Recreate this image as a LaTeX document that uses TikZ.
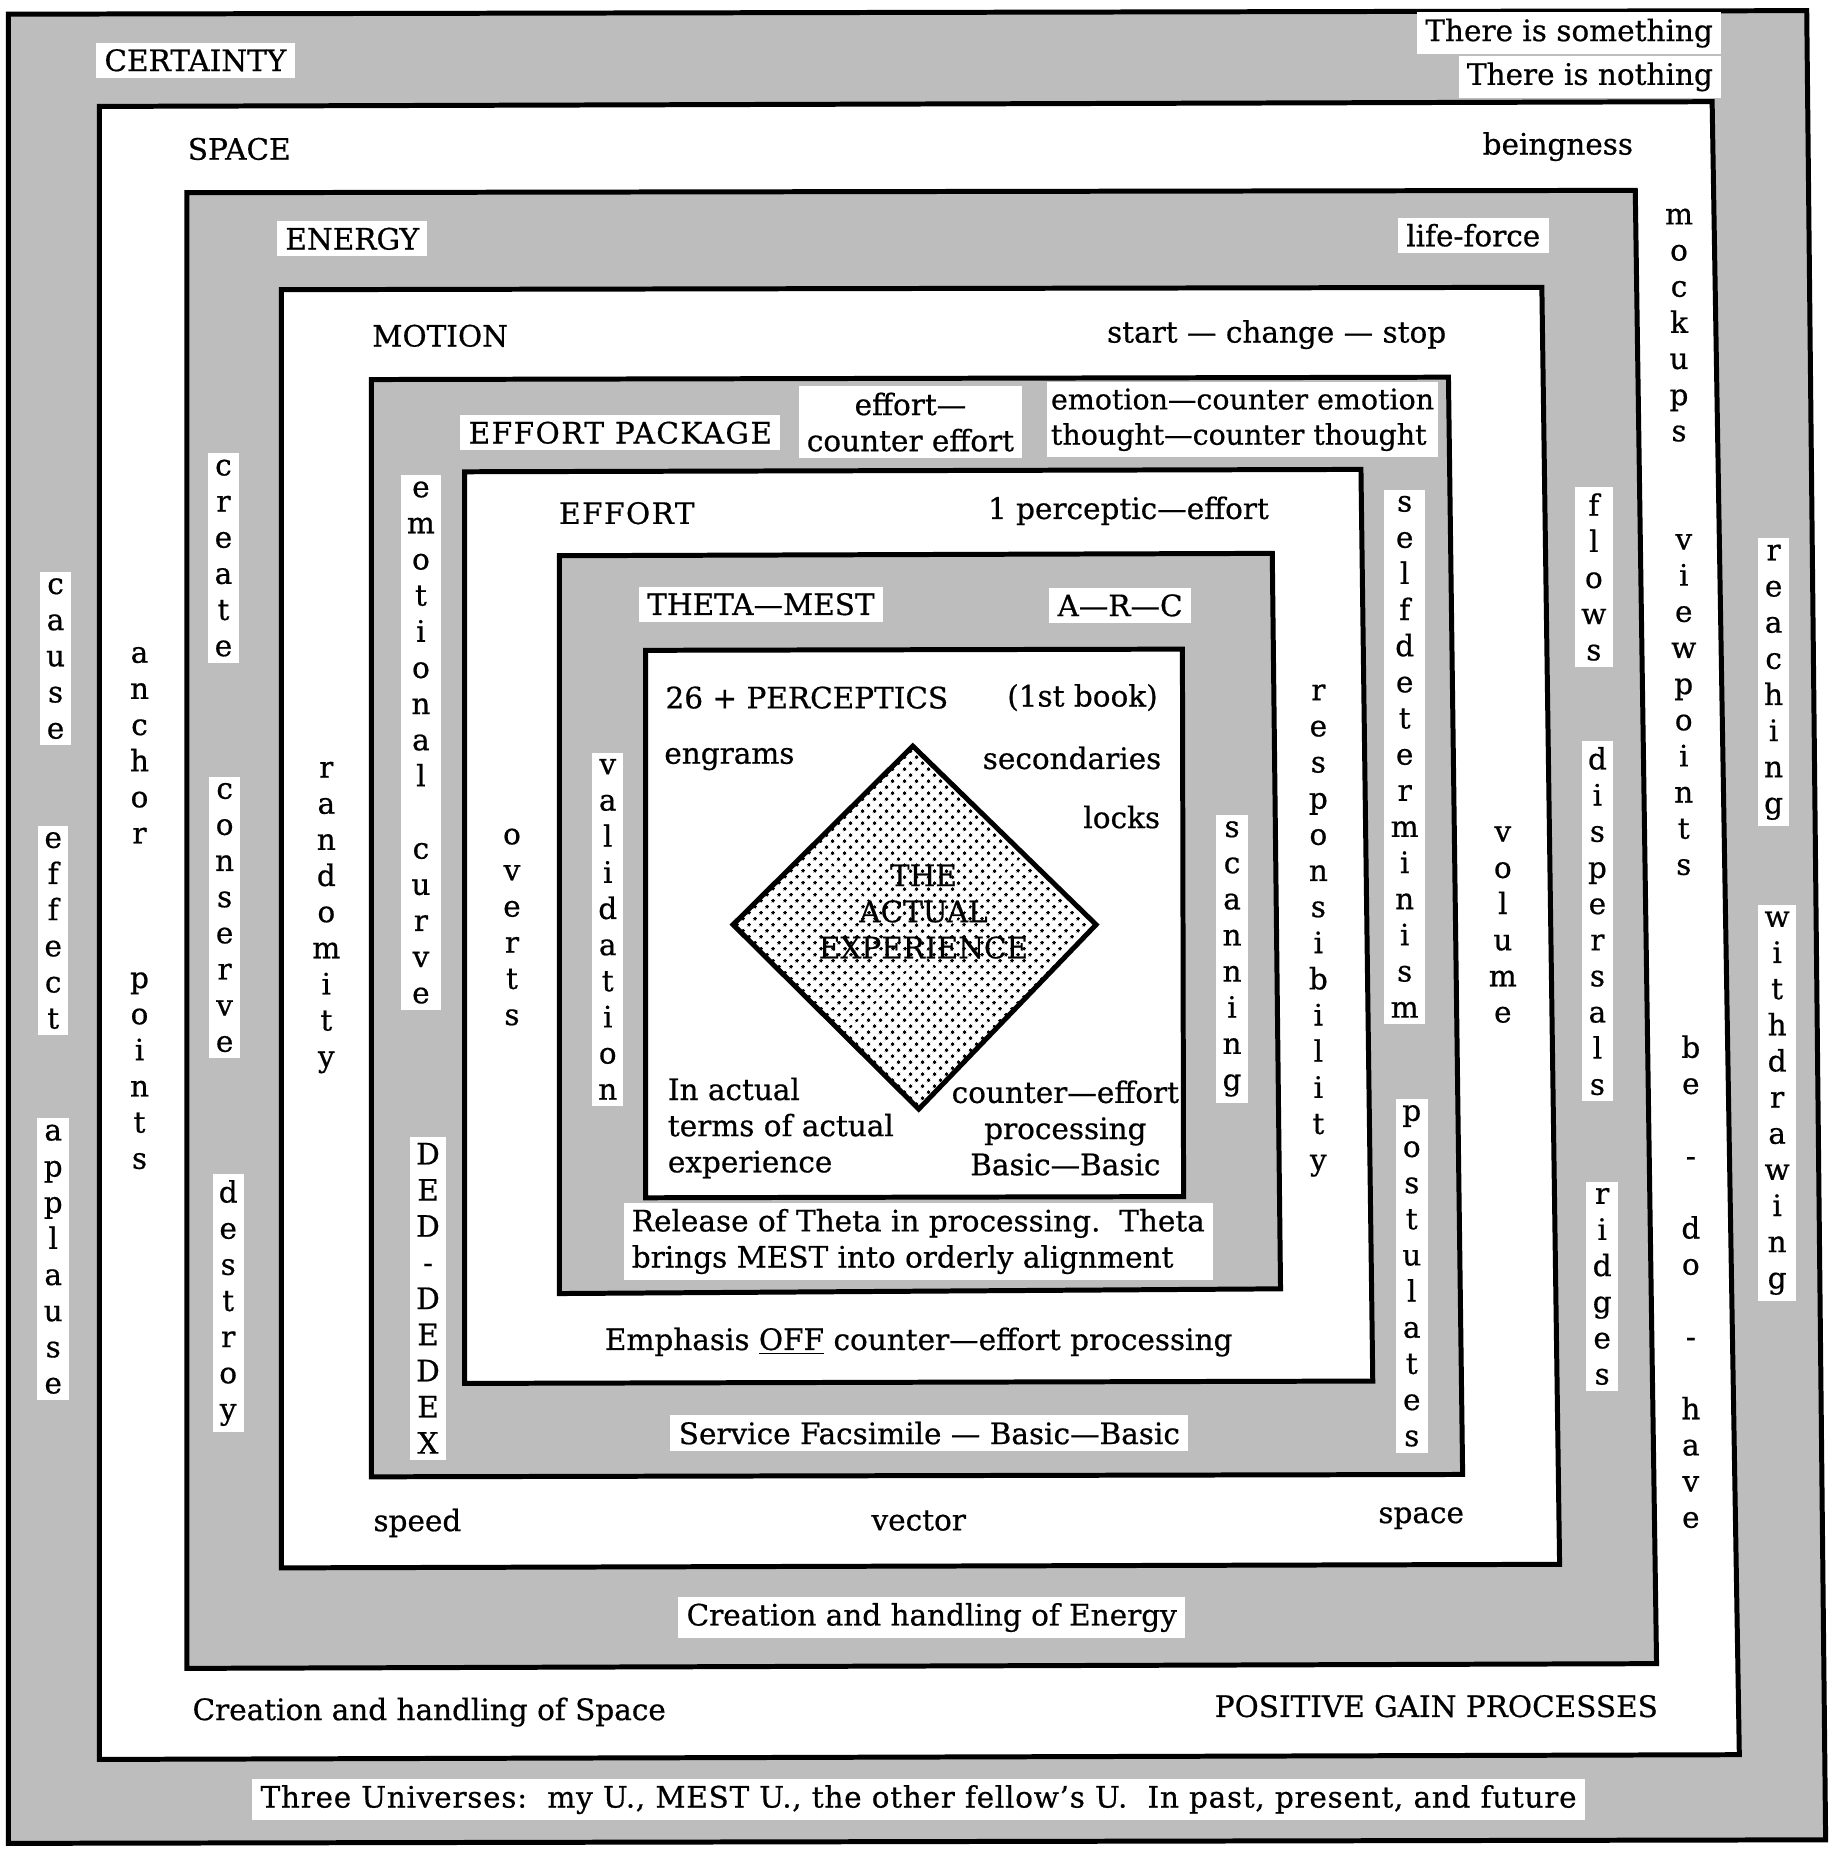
\documentclass[tikz,border=0pt]{standalone}
\usepackage{fontspec}
\setmainfont{DejaVu Serif}[FakeBold=0.6]
\usetikzlibrary{patterns.meta}

\definecolor{screen}{gray}{0.74}

\tikzdeclarepattern{
  name=expdots,
  type=colored,
  bottom left={(0pt,0pt)},
  top right={(4pt,4pt)},
  tile size={(4pt,4pt)},
  tile transformation={rotate=45},
  code={\fill[black] (2pt,2pt) circle [radius=0.85pt];}
}

\tikzset{
  lbl/.style={font=\fontsize{14.2}{17.4}\selectfont, inner sep=2pt},
  spaced/.style={font=\fontsize{14.2}{17.4}\selectfont\addfontfeature{LetterSpace=5}},
  patch/.style={lbl, fill=white, inner xsep=4pt, inner ysep=3pt},
  vword/.style={lbl, align=center, inner xsep=3pt, inner ysep=3pt},
  vpatch/.style={vword, fill=white},
  grey box/.style={fill=screen, draw, line width=2.4pt},
  white box/.style={fill=white, draw, line width=2.4pt}
}

\begin{document}
\begin{tikzpicture}[x=0.02cm, y=-0.02cm]
\useasboundingbox (0,0) rectangle (1547,1568);

% frames, from the outside in
\filldraw[grey box] (7,12) -- (1528,9) -- (1544,1556) -- (7,1559) -- cycle;
\filldraw[white box] (84,90) -- (1448,86) -- (1471,1484) -- (84,1488) -- cycle;
\filldraw[grey box] (158,163) -- (1383,161) -- (1401,1407) -- (158,1411) -- cycle;
\filldraw[white box] (238,245) -- (1304,243) -- (1319,1323) -- (238,1326) -- cycle;
\filldraw[grey box] (314,321) -- (1225,319) -- (1237,1247) -- (314,1249) -- cycle;
\filldraw[white box] (393,399) -- (1151,397) -- (1161,1168) -- (393,1170) -- cycle;
\filldraw[grey box] (473,470) -- (1076,468) -- (1083,1090) -- (473,1094) -- cycle;
\filldraw[white box] (546,550) -- (1000,549) -- (1001,1012) -- (546,1013) -- cycle;
\draw[line width=2.4pt, pattern=expdots] (772,631) -- (927,782) -- (777,938) -- (620,782) -- cycle;

% horizontal texts
\node[patch, anchor=west] (certainty) at (81,51) {CERTAINTY};
\node[patch, anchor=east] (something) at (1456,28) {There is something};
\node[patch, anchor=east] (nothing) at (1456,65) {There is nothing};
\node[lbl, anchor=west] (space) at (155,126) {SPACE};
\node[lbl, anchor=east] (beingness) at (1385,124) {beingness};
\node[patch, anchor=west] (energy) at (234,202) {ENERGY};
\node[patch, anchor=east] (lifeforce) at (1310,199) {life-force};
\node[lbl, anchor=west] (motion) at (311,284) {MOTION};
\node[lbl, anchor=east] (startstop) at (1227,283) {start — change — stop};
\node[patch, spaced, anchor=west] (package) at (389,366) {EFFORT PACKAGE};
\node[patch, align=center] (effortpair) at (770,357) {effort—\\counter effort};
\node[patch, align=left, anchor=west, inner xsep=2pt, font=\fontsize{13.7}{17}\selectfont] (emothought) at (885,355) {emotion—counter emotion\\thought—counter thought};
\node[lbl, spaced, anchor=west] (effort) at (469,434) {EFFORT};
\node[lbl, anchor=east] (perceptic) at (1077,432) {1 perceptic—effort};
\node[patch, anchor=west] (thetamest) at (540,511) {THETA—MEST};
\node[patch, anchor=west] (arc) at (887,512) {A—R—C};
\node[lbl, anchor=west] (perceptics) at (559,590) {26 + PERCEPTICS};
\node[lbl, anchor=east] (firstbook) at (983,590) {(1st book)};
\node[lbl, anchor=west] (engrams) at (558,642) {engrams};
\node[lbl, anchor=east] (secondaries) at (986,641) {secondaries};
\node[lbl, anchor=east] (locks) at (985,691) {locks};
\node[lbl, align=center] (actual) at (781,771) {THE\\ACTUAL\\EXPERIENCE};
\node[lbl, align=left, anchor=west] (interms) at (561,954) {In actual\\terms of actual\\experience};
\node[lbl, align=center] (counter) at (901,954) {counter—effort\\processing\\Basic—Basic};
\node[patch, align=left, anchor=west] (release) at (527,1050) {Release of Theta in processing.\ \ Theta\\brings MEST into orderly alignment};
\node[lbl] (emphasis) at (777,1135) {Emphasis \underline{OFF} counter—effort processing};
\node[patch] (facsimile) at (786,1212) {Service Facsimile — Basic—Basic};
\node[lbl, anchor=west] (speed) at (312,1288) {speed};
\node[lbl] (vector) at (777,1286) {vector};
\node[lbl, anchor=east] (spacelow) at (1242,1284) {space};
\node[patch] (energyhandling) at (788,1368) {Creation and handling of Energy};
\node[lbl, anchor=west] (spacehandling) at (159,1448) {Creation and handling of Space};
\node[lbl, anchor=east] (gain) at (1406,1443) {POSITIVE GAIN PROCESSES};
\node[patch, anchor=west, font=\fontsize{14.2}{17.4}\selectfont\addfontfeature{LetterSpace=2.5}] (universes) at (213,1522) {Three Universes:\ \ my U., MEST U., the other fellow’s U.\ \ In past, present, and future};

% vertical words, left side
\node[vpatch] (cause) at (47,557) {c\\a\\u\\s\\e};
\node[vpatch] (effect) at (45,787) {e\\f\\f\\e\\c\\t};
\node[vpatch] (applause) at (45,1065) {a\\p\\p\\l\\a\\u\\s\\e};
\node[vword] (anchor) at (118,768) {a\\n\\c\\h\\o\\r\\~\\~\\~\\p\\o\\i\\n\\t\\s};
\node[vpatch] (create) at (189,472) {c\\r\\e\\a\\t\\e};
\node[vpatch] (conserve) at (190,776) {c\\o\\n\\s\\e\\r\\v\\e};
\node[vpatch] (destroy) at (193,1102) {d\\e\\s\\t\\r\\o\\y};
\node[vword] (randomity) at (276,776) {r\\a\\n\\d\\o\\m\\i\\t\\y};
\node[vpatch] (emotional) at (356,628) {e\\m\\o\\t\\i\\o\\n\\a\\l\\~\\c\\u\\r\\v\\e};
\node[vpatch] (deddedex) at (362,1098) {D\\E\\D\\-\\D\\E\\D\\E\\X};
\node[vword] (overts) at (433,784) {o\\v\\e\\r\\t\\s};
\node[vpatch] (validation) at (514,786) {v\\a\\l\\i\\d\\a\\t\\i\\o\\n};

% vertical words, right side
\node[vpatch] (scanning) at (1042,811) {s\\c\\a\\n\\n\\i\\n\\g};
\node[vword] (responsibility) at (1115,787) {r\\e\\s\\p\\o\\n\\s\\i\\b\\i\\l\\i\\t\\y};
\node[vpatch] (selfdet) at (1188,640) {s\\e\\l\\f\\d\\e\\t\\e\\r\\m\\i\\n\\i\\s\\m};
\node[vpatch] (postulates) at (1194,1079) {p\\o\\s\\t\\u\\l\\a\\t\\e\\s};
\node[vword] (volume) at (1271,782) {v\\o\\l\\u\\m\\e};
\node[vpatch] (flows) at (1348,488) {f\\l\\o\\w\\s};
\node[vpatch] (dispersals) at (1351,779) {d\\i\\s\\p\\e\\r\\s\\a\\l\\s};
\node[vpatch] (ridges) at (1355,1088) {r\\i\\d\\g\\e\\s};
\node[vword] (mockups) at (1420,275) {m\\o\\c\\k\\u\\p\\s};
\node[vword] (viewpoints) at (1424,596) {v\\i\\e\\w\\p\\o\\i\\n\\t\\s};
\node[vword] (bedohave) at (1430,1084) {b\\e\\~\\-\\~\\d\\o\\~\\-\\~\\h\\a\\v\\e};
\node[vpatch] (reaching) at (1500,577) {r\\e\\a\\c\\h\\i\\n\\g};
\node[vpatch] (withdrawing) at (1503,933) {w\\i\\t\\h\\d\\r\\a\\w\\i\\n\\g};
\end{tikzpicture}
\end{document}
